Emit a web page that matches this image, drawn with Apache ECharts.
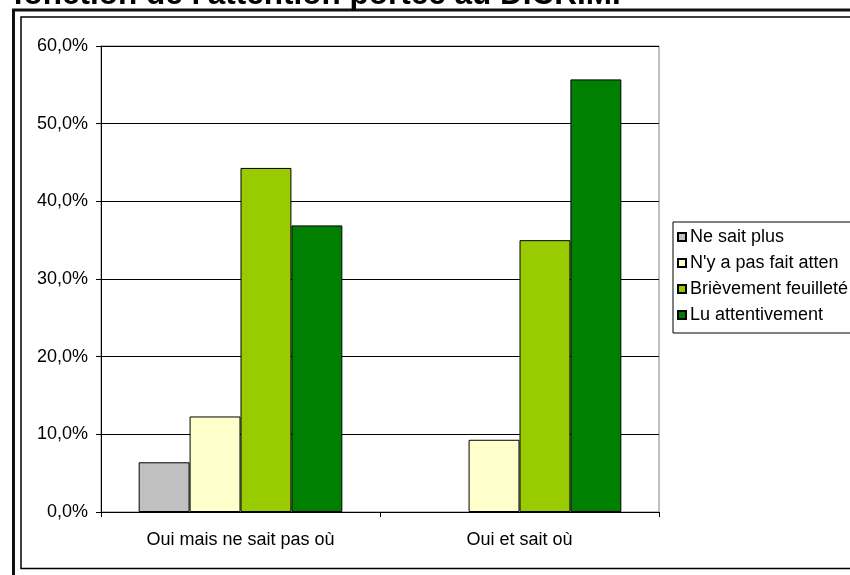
<!DOCTYPE html>
<html>
<head>
<meta charset="utf-8">
<script src="https://cdn.jsdelivr.net/npm/echarts@6/dist/echarts.min.js"></script>
<style>
html,body{margin:0;padding:0;background:#fff;}
#chart{width:850px;height:575px;}
</style>
</head>
<body>
<div id="chart"></div>
<script>
var titleText = "fonction de l'attention portée au DICRIM.";
var categories = ["Oui mais ne sait pas où", "Oui et sait où"];
var seriesNames = ["Ne sait plus", "N'y a pas fait atten", "Brièvement feuilleté", "Lu attentivement"];
var neSaitPlus = [6.4, null];
var pasFaitAttention = [12.3, 9.3];
var brievementFeuillete = [44.3, 35.0];
var luAttentivement = [36.9, 55.7];
var yTicks = [0, 10, 20, 30, 40, 50, 60];
var colors = ["#C0C0C0", "#FFFFCC", "#99CC00", "#008000"];

var FONT = "'Liberation Sans', Arial, sans-serif";
var LABEL_SIZE = 18;
var seriesData = [neSaitPlus, pasFaitAttention, brievementFeuillete, luAttentivement];

var chart = echarts.init(document.getElementById('chart'), null, {renderer: 'canvas'});
var option = {
  backgroundColor: '#ffffff',
  animation: false,
  textStyle: {fontFamily: FONT},
  grid: {
    left: 101, right: 191, top: 46, bottom: 63,
    show: true, borderColor: '#808080', borderWidth: 1, backgroundColor: 'transparent'
  },
  legend: {
    orient: 'vertical',
    left: 673, top: 222,
    padding: [6, 60, 9, 4],
    itemWidth: 8, itemHeight: 8, itemGap: 8,
    icon: 'rect',
    borderColor: '#000', borderWidth: 1,
    textStyle: {fontFamily: FONT, fontSize: LABEL_SIZE, color: '#000', lineHeight: 18, padding: [0, 0, 0, -1]},
    data: seriesNames
  },
  xAxis: {
    type: 'category',
    data: categories,
    axisLine: {lineStyle: {color: '#000', width: 1}},
    axisTick: {show: true, length: 5, alignWithLabel: false, lineStyle: {color: '#000'}},
    axisLabel: {fontFamily: FONT, fontSize: LABEL_SIZE, color: '#000', margin: 19},
    splitLine: {show: false}
  },
  yAxis: {
    type: 'value',
    min: yTicks[0], max: yTicks[yTicks.length - 1], interval: 10,
    axisLine: {show: true, lineStyle: {color: '#000', width: 1}},
    axisTick: {show: true, length: 5, lineStyle: {color: '#000'}},
    axisLabel: {
      fontFamily: FONT, fontSize: LABEL_SIZE, color: '#000', margin: 13,
      formatter: function (v) { return v.toFixed(1).replace('.', ',') + '%'; }
    },
    splitLine: {show: true, lineStyle: {color: '#000', width: 1}}
  },
  series: seriesNames.map(function (name, i) {
    return {
      name: name,
      type: 'bar',
      data: seriesData[i],
      barGap: '0%',
      barCategoryGap: '27%',
      itemStyle: {color: colors[i], borderColor: '#000', borderWidth: 1}
    };
  }),
  graphic: [
    {type: 'rect', shape: {x: 13.5, y: 10, width: 1000, height: 1000}, style: {fill: 'none', stroke: '#111', lineWidth: 3}, silent: true},
    {type: 'rect', shape: {x: 21, y: 17, width: 1000, height: 551.5}, style: {fill: 'none', stroke: '#000', lineWidth: 1.5}, silent: true},
    {type: 'text', left: 13, top: -21, style: {text: titleText, fontFamily: FONT, fontSize: 31.5, fontWeight: 'bold', fill: '#000'}, silent: true}
  ]
};
chart.setOption(option);
</script>
</body>
</html>
